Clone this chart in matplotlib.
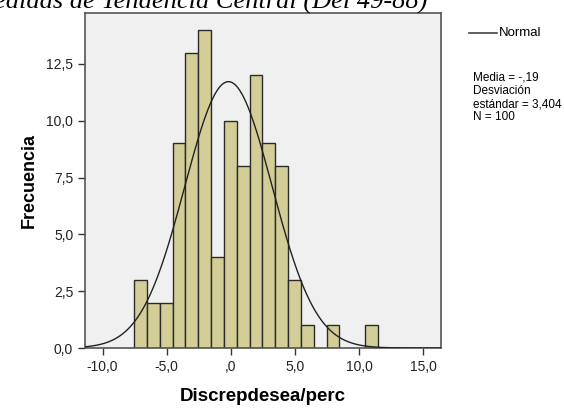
import numpy as np
import matplotlib
matplotlib.use("Agg")
import matplotlib.pyplot as plt
from matplotlib.ticker import FuncFormatter

# Data
bin_start = -7.55
bin_width = 1.0
counts = [3, 2, 2, 9, 13, 14, 4, 10, 8, 12, 9, 8, 3, 1, 0, 1, 0, 0, 1]
mean = -0.19
sd = 3.404
n = 100
x_ticks = [-10, -5, 0, 5, 10, 15]
y_ticks = [0, 2.5, 5, 7.5, 10, 12.5]

plt.rcParams['font.family'] = ['Liberation Sans', 'DejaVu Sans']

fig = plt.figure(figsize=(5.64, 4.08), dpi=100)
ax = fig.add_axes([85/564, 1-348/408, (441-85)/564, (348-13)/408])
ax.set_facecolor('#f0f0f0')

edges = bin_start + bin_width*np.arange(len(counts)+1)
for i, c in enumerate(counts):
    if c > 0:
        ax.bar(edges[i], c, width=bin_width, align='edge', color='#d3ce97',
               edgecolor='#2b2b2b', linewidth=1.0, zorder=2)

xs = np.linspace(-11.4, 16.4, 600)
ys = n*bin_width/(sd*np.sqrt(2*np.pi))*np.exp(-0.5*((xs-mean)/sd)**2)
ax.plot(xs, ys, color='#222222', linewidth=1.0, zorder=3)

ax.set_xlim(-11.37, 16.37)
ax.set_ylim(0, 14.74)
ax.set_xticks(x_ticks)
ax.set_yticks(y_ticks)

def fmt_x(v, pos):
    s = f"{v:.1f}".replace('.', ',')
    if s.startswith('0,'):
        s = s[1:]
    return s

def fmt_y(v, pos):
    return f"{v:.1f}".replace('.', ',')

ax.xaxis.set_major_formatter(FuncFormatter(fmt_x))
ax.yaxis.set_major_formatter(FuncFormatter(fmt_y))
ax.tick_params(direction='out', length=5, width=1, colors='#333333', labelsize=10, labelcolor='#222222')
for s in ax.spines.values():
    s.set_color('#555555')
    s.set_linewidth(1.2)

ax.set_xlabel('Discrepdesea/perc', fontsize=13.5, fontweight='bold', labelpad=10)
ax.set_ylabel('Frecuencia', fontsize=13, fontweight='bold', labelpad=6)

# Legend and stats
fig.lines.append(plt.Line2D([469/564, 497/564], [1-33/408, 1-33/408], color='#444444', linewidth=1.2, transform=fig.transFigure))
fig.text(499/564, 1-33/408, 'Normal', fontsize=9.5, va='center', ha='left')
fig.text(473/564, 1-72/408, 'Media = -,19\nDesviación\nestándar = 3,404\nN = 100', fontsize=8.5,
         va='top', ha='left', linespacing=1.12)

# clipped title at top
fig.text(428/564, 1-9/408, 'Medidas de Tendencia Central (Del 49-88)', fontsize=19,
         family=['Liberation Serif', 'DejaVu Serif'], style='italic', ha='right', va='baseline')

fig.savefig('out.png', dpi=100)
